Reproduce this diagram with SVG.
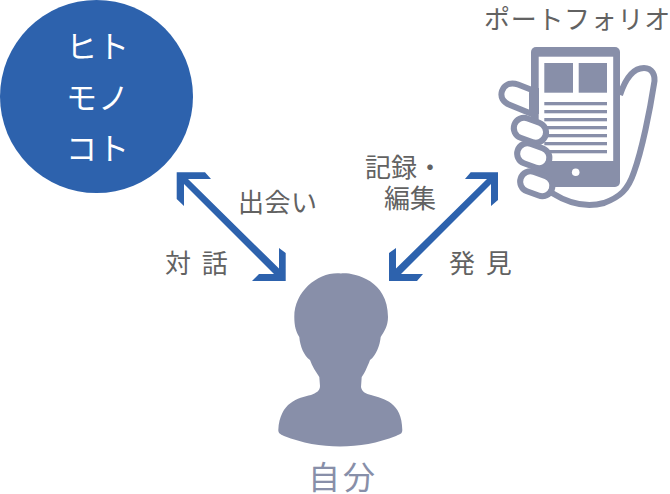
<svg xmlns="http://www.w3.org/2000/svg" width="670" height="494" viewBox="0 0 670 494">
<style>
text{font-family:"Noto Sans CJK JP","Noto Sans",sans-serif;font-weight:400}
.l{fill:#626262;font-size:26px}
.w{fill:#fff;font-size:31px;text-anchor:middle}
.g{fill:#888fa9}
.a{fill:#2d62ad}
.h{fill:none;stroke:#888fa9;stroke-width:6;stroke-linejoin:round}
.f{fill:#fff;stroke:#888fa9;stroke-width:6}
</style>
<rect width="670" height="494" fill="#fff"/>
<g id="hitomonokoto">
<circle class="a" cx="96.500" cy="96.500" r="96.500"/>
<text class="w" x="98" y="58" style="letter-spacing:1px">ヒト</text>
<text class="w" x="98" y="109" style="letter-spacing:1px">モノ</text>
<text class="w" x="98" y="160" style="letter-spacing:1px">コト</text>
</g>
<g id="portfolio">
<text class="l" x="484" y="29" style="letter-spacing:.7px">ポートフォリオ</text>
<path class="h" d="M620 95C625 80 632 68 644 68C652 68 656 75 654 84C650 110 642 150 634 172C628 190 620 197 604 203C586 208 568 203 552 193"/>
<rect class="g" x="531" y="47" width="89" height="140" rx="5"/>
<rect x="538.700" y="56.700" width="74.500" height="104.300" fill="#fff"/>
<rect class="g" x="544.300" y="63" width="28.700" height="29.700"/>
<rect class="g" x="578.700" y="63" width="28.300" height="29.700"/>
<g class="g">
<rect x="544.300" y="102" width="62.700" height="3.300"/>
<rect x="544.300" y="110" width="62.700" height="3.300"/>
<rect x="544.300" y="118" width="62.700" height="3.300"/>
<rect x="544.300" y="126" width="62.700" height="3.300"/>
<rect x="544.300" y="134" width="62.700" height="3.300"/>
<rect x="544.300" y="142" width="62.700" height="3.300"/>
<rect x="544.300" y="150" width="62.700" height="3.300"/>
</g>
<circle cx="575.700" cy="172.300" r="3.800" fill="#fff"/>
<path class="f" d="M532 90L518 84.500C510 81.500 504 85 502 91C500 97 503 102 510 105L532 114Z" style="stroke-linejoin:round"/>
<path d="M535 88V114" stroke="#888fa9" stroke-width="8" fill="none"/>
<rect class="f" x="513.500" y="120" width="33" height="20.500" rx="10.250" transform="rotate(20 530 130)"/>
<rect class="f" x="516.800" y="145.500" width="33" height="20.500" rx="10.250" transform="rotate(20 533.300 155.700)"/>
<rect class="f" x="519.800" y="173.500" width="33" height="20.500" rx="10.250" transform="rotate(20 536.300 183.700)"/>
</g>
<g id="self">
<path class="g" d="M341 273.500C347 272 388 276 388 317C388 326 384 332 380.700 337C380 345 376 356 370 360C367 368 364 374 361.700 377L361 387C362 392 366 394 371 395C384 399 402 402 402.300 430C402.300 434 400 434 396 436C360 450 320 450 284 436C280 434 278.300 433 278.300 430C280 402 298 398 311 395C316 393 320 391 320 386L319.300 377C316 372 312 366 310 360C304 356 300 346 299.300 337C296 332 294.300 326 294.300 317C294.300 290 320 271 341 273.500Z"/>
<text x="308" y="489" style="font-size:32px;letter-spacing:3px;fill:#888fa9">自分</text>
</g>
<g id="connectors">
<polygon class="a" points="176.700,172.300 205,172.300 211,179 188,179 279,268.500 279,248 285.700,253 285.700,281 252,281 259,274 274,274 184,184 184,206 176.700,199"/>
<polygon class="a" points="498,172.300 470.700,172.300 465,179 487,179 396,268.500 396,248 389,253 389,281 417,281 423,274 401,274 491,184 491,206 498,200"/>
</g>
<g id="labels">
<text class="l" x="238" y="212" style="letter-spacing:.5px">出会い</text>
<text class="l" x="165" y="273" style="letter-spacing:2.500px">対 話</text>
<text class="l"><tspan x="365" y="177">記録・</tspan><tspan x="384" y="208">編集</tspan></text>
<text class="l" x="449" y="273" style="letter-spacing:2.500px">発 見</text>
</g>
</svg>
